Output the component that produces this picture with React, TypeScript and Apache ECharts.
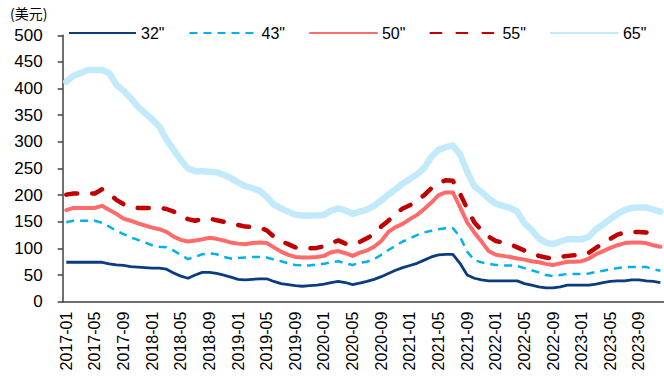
import React, { useEffect, useRef } from "react";
import * as echarts from "echarts";

const months: string[] = (() => {
  const out: string[] = [];
  for (let y = 2017; y <= 2023; y++) {
    for (let m = 1; m <= 12; m++) out.push(`${y}-${m < 10 ? "0" + m : m}`);
  }
  return out;
})();

const seriesNames = ['32"', '43"', '50"', '55"', '65"'];

const tv32 = [
  74, 74, 74, 74, 74, 74, 71, 69, 68, 66, 65, 64,
  63, 63, 61, 54, 48, 44, 50, 55, 55, 53, 50, 46,
  42, 41, 42, 43, 43, 38, 34, 32, 30, 29, 30, 31,
  33, 36, 38, 36, 32, 35, 38, 42, 47, 53, 59, 64,
  68, 72, 78, 84, 88, 89, 89, 72, 50, 44, 41, 39,
  39, 39, 39, 39, 34, 31, 28, 26, 26, 28, 31, 31,
  31, 31, 33, 36, 38, 39, 39, 41, 41, 39, 38, 36,
];

const tv43 = [
  149, 152, 152, 152, 152, 148, 141, 133, 127, 121, 116, 111,
  106, 103, 102, 96, 88, 80, 84, 89, 91, 89, 84, 81,
  82, 83, 84, 84, 83, 79, 76, 72, 69, 68, 68, 70,
  71, 74, 76, 72, 69, 73, 75, 80, 88, 97, 105, 113,
  119, 125, 130, 133, 136, 138, 138, 122, 94, 78, 74, 71,
  69, 68, 68, 67, 63, 59, 55, 50, 48, 50, 52, 52,
  52, 53, 56, 58, 61, 63, 65, 65, 65, 65, 61, 58,
];

const tv50 = [
  172, 176, 176, 176, 176, 180, 172, 165, 156, 152, 147, 143,
  139, 136, 131, 122, 116, 113, 115, 117, 120, 118, 115, 111,
  109, 108, 110, 111, 110, 102, 94, 88, 84, 83, 83, 84,
  86, 93, 95, 91, 86, 92, 96, 103, 114, 131, 140, 146,
  155, 163, 174, 186, 200, 205, 205, 178, 149, 130, 113, 95,
  88, 86, 84, 81, 79, 76, 74, 71, 69, 72, 75, 75,
  76, 81, 89, 95, 101, 106, 110, 111, 111, 110, 106, 103,
];

const tv55 = [
  201, 203, 203, 203, 203, 211, 203, 191, 183, 180, 176, 176,
  176, 176, 174, 169, 163, 155, 152, 155, 156, 153, 150, 147,
  144, 141, 140, 139, 134, 122, 114, 108, 102, 100, 100, 101,
  104, 110, 115, 109, 108, 112, 119, 127, 141, 152, 165, 175,
  181, 189, 200, 213, 222, 228, 227, 203, 175, 149, 134, 122,
  114, 111, 108, 102, 96, 92, 86, 83, 81, 84, 86, 87,
  87, 92, 101, 110, 118, 126, 130, 131, 131, 130, 127, 122,
];

const tv65 = [
  413, 424, 429, 435, 435, 435, 429, 407, 396, 382, 366, 354,
  342, 329, 304, 285, 266, 250, 245, 245, 244, 243, 238, 232,
  224, 217, 213, 208, 197, 182, 175, 169, 163, 162, 162, 162,
  163, 171, 175, 171, 165, 169, 173, 180, 190, 201, 211, 222,
  230, 239, 251, 272, 285, 290, 293, 277, 244, 217, 206, 194,
  184, 180, 176, 169, 147, 135, 119, 111, 108, 113, 117, 117,
  117, 122, 136, 145, 155, 165, 172, 176, 177, 177, 173, 169,
];

const FONT = "'Liberation Sans', Arial, sans-serif";

export default function App() {
  const ref = useRef<HTMLDivElement>(null);
  useEffect(() => {
    if (!ref.current) return;
    const chart = echarts.init(ref.current, undefined, { renderer: "svg" });
    const mk = (name: string, data: number[], color: string, width: number, type: any, cap: any = "butt") => ({
      name,
      type: "line",
      data,
      symbol: "none",
      smooth: false,
      lineStyle: { color, width, type, cap, join: "round" },
      itemStyle: { color },
      z: 2,
    });
    chart.setOption({
      animation: false,
      textStyle: { fontFamily: FONT },
      grid: { left: 62.7, right: -3, top: 35.3, bottom: 78.3, containLabel: false },
      legend: {
        left: 68,
        top: 25,
        width: 596,
        itemWidth: 67,
        itemHeight: 14,
        itemGap: 24,
        padding: 0,
        itemStyle: { opacity: 0 },
        textStyle: { fontSize: 16, color: "#000", fontFamily: FONT },
        data: seriesNames,
      },
      graphic: [
        {
          type: "text",
          left: 10,
          top: 6,
          style: { text: "(美元)", fontSize: 14, fill: "#000", fontFamily: "'Noto Sans CJK SC', sans-serif" },
        },
      ],
      xAxis: {
        type: "category",
        data: months,
        boundaryGap: true,
        axisLine: { lineStyle: { color: "#404040", width: 1.5 } },
        axisTick: { interval: 3, length: 5, lineStyle: { color: "#404040", width: 1.5 } },
        axisLabel: { interval: 3, rotate: 90, margin: 10, fontSize: 16, color: "#000", fontFamily: FONT },
      },
      yAxis: {
        type: "value",
        min: 0,
        max: 500,
        interval: 50,
        axisLine: { show: true, lineStyle: { color: "#404040", width: 1.5 } },
        axisTick: { show: true, length: 5, lineStyle: { color: "#404040", width: 1.5 } },
        axisLabel: { margin: 20, fontSize: 17, color: "#000", fontFamily: FONT },
        splitLine: { show: false },
      },
      series: [
        mk('65"', tv65, "#C2EAFA", 6.5, "solid", "round"),
        mk('50"', tv50, "#FF6B6B", 4, "solid", "round"),
        mk('55"', tv55, "#C00000", 4.5, [11, 15], "round"),
        mk('43"', tv43, "#00B0F0", 2.5, [8, 6]),
        mk('32"', tv32, "#0B3D7E", 2.8, "solid"),
      ],
    });
    return () => chart.dispose();
  }, []);
  return (
    <div
      ref={ref}
      style={{ position: "fixed", left: 0, top: 0, width: 664, height: 380, background: "#fff" }}
    />
  );
}
